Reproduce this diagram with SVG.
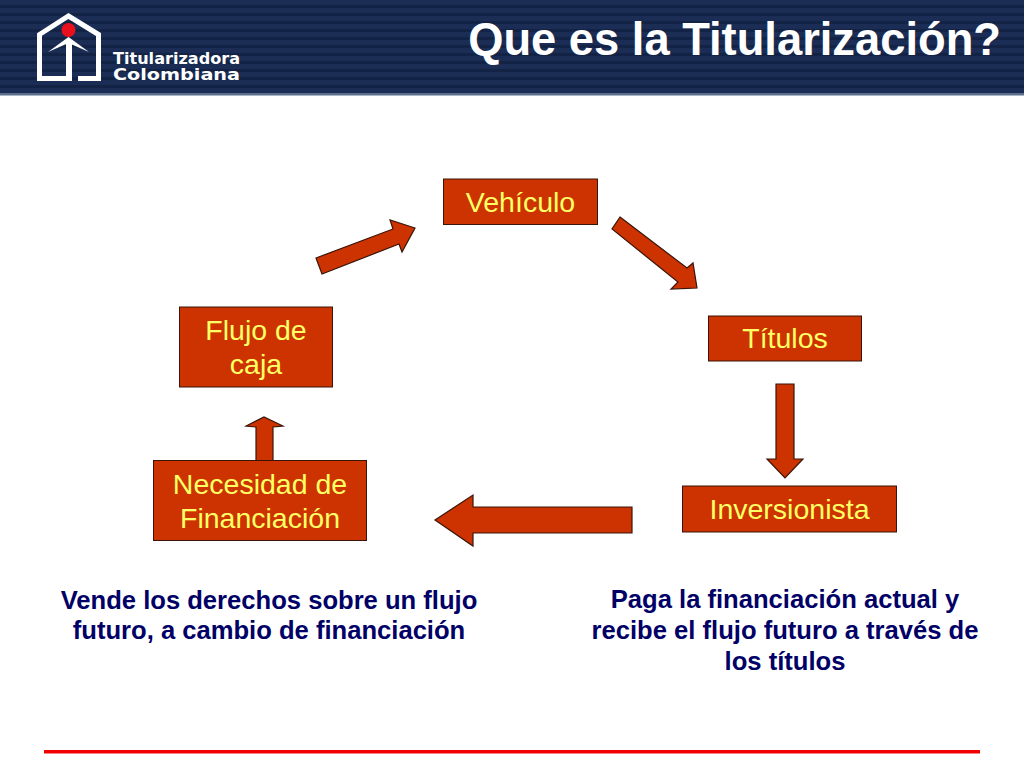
<svg xmlns="http://www.w3.org/2000/svg" width="1024" height="768" viewBox="0 0 1024 768">
<defs>
<pattern id="stripes" width="8" height="8" patternUnits="userSpaceOnUse">
<rect width="8" height="8" fill="#1b2d54"/>
<rect y="5" width="8" height="3" fill="#132345"/>
</pattern>
</defs>
<style>
.box{fill:#cc3300;stroke:#3a1408;stroke-width:1}
.arrow{fill:#cc3300;stroke:#3a1408;stroke-width:1.2}
.lbl{font-family:"Liberation Sans",Arial,sans-serif;font-size:28.5px;fill:#ffff66;text-anchor:middle}
.note{font-family:"Liberation Sans",Arial,sans-serif;font-size:25.6px;font-weight:bold;fill:#000066;text-anchor:middle}
</style>
<rect width="1024" height="768" fill="#ffffff"/>
<g id="header">
<rect width="1024" height="93" fill="url(#stripes)"/>
<rect y="93" width="1024" height="2.500" fill="#5b6f8c"/>
<text x="1001" y="55" font-family="'Liberation Sans',Arial,sans-serif" font-size="45.3px" font-weight="bold" fill="#ffffff" text-anchor="end">Que es la Titularización?</text>
</g>
<g id="logo">
<path d="M72 78.500H39.500V34.500L68.500 16L98.500 34.500V78.500H78" fill="none" stroke="#ffffff" stroke-width="5"/>
<path d="M48 52L68.500 37L89 52L68.500 43Z" fill="#ffffff"/>
<rect x="66" y="40" width="6" height="40" fill="#ffffff"/>
<circle cx="68.500" cy="30" r="7" fill="#e8101c"/>
<text x="113" y="63.500" font-family="'DejaVu Sans',sans-serif" font-size="15px" font-weight="bold" fill="#ffffff" textLength="127" lengthAdjust="spacingAndGlyphs">Titularizadora</text>
<text x="113" y="79.500" font-family="'DejaVu Sans',sans-serif" font-size="15px" font-weight="bold" fill="#ffffff" textLength="127" lengthAdjust="spacingAndGlyphs">Colombiana</text>
</g>
<g id="connectors">
<polygon class="arrow" points="316,258 393,229 390,220 415,228 402,252 399,244 322,274"/>
<polygon class="arrow" points="620,217 687,268 693,263 697,288 671,289 678,282 612,229"/>
<polygon class="arrow" points="776,384 794,384 794,459 803,459 785,478 767,459 776,459"/>
<polygon class="arrow" points="632,507 473,507 473,495 435,520 473,546 473,533 632,533"/>
<polygon class="arrow" points="256,461 256,427 246,426 264,417 283,426 273,427 273,461"/>
</g>
<g id="vehiculo">
<rect class="box" x="443.500" y="179" width="154" height="45.500"/>
<text class="lbl" x="520.500" y="211.500">Vehículo</text>
</g>
<g id="titulos">
<rect class="box" x="708.500" y="316" width="153" height="45"/>
<text class="lbl" x="785" y="348">Títulos</text>
</g>
<g id="inversionista">
<rect class="box" x="682.500" y="486" width="214" height="46"/>
<text class="lbl" x="789.500" y="519">Inversionista</text>
</g>
<g id="necesidad">
<rect class="box" x="153.500" y="460.500" width="213" height="80"/>
<text class="lbl" x="260" y="494">Necesidad de</text>
<text class="lbl" x="260" y="528">Financiación</text>
</g>
<g id="flujo">
<rect class="box" x="179.500" y="307" width="153" height="80"/>
<text class="lbl" x="256" y="340">Flujo de</text>
<text class="lbl" x="256" y="374">caja</text>
</g>
<g id="notes">
<text class="note" x="269" y="609">Vende los derechos sobre un flujo</text>
<text class="note" x="269" y="639">futuro, a cambio de financiación</text>
<text class="note" x="785" y="608">Paga la financiación actual y</text>
<text class="note" x="785" y="639">recibe el flujo futuro a través de</text>
<text class="note" x="785" y="670">los títulos</text>
</g>
<g id="footer">
<rect x="44" y="750" width="936" height="3.500" fill="#f00000"/>
</g>
</svg>
